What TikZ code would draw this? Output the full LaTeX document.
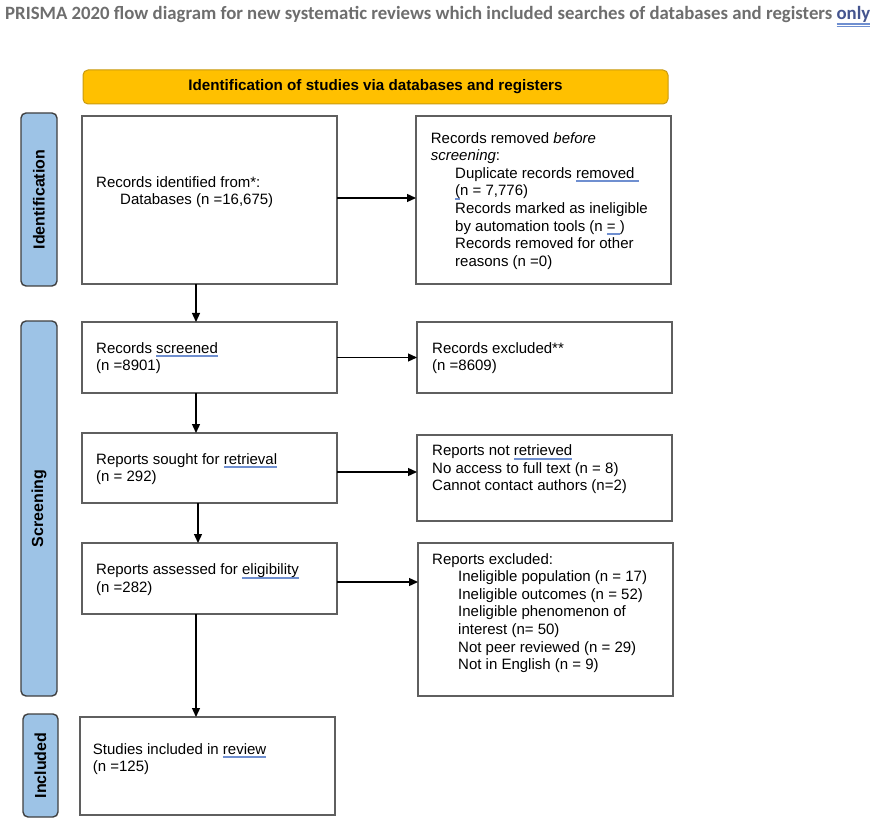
\documentclass[tikz,border=0pt]{standalone}
\usepackage{fontspec}
\setmainfont{Liberation Sans}
\newfontfamily\titlefont{Carlito}
\usepackage{graphicx}
\usetikzlibrary{arrows.meta}
\definecolor{boxline}{HTML}{5F5F5F}
\definecolor{barfill}{HTML}{9DC3E6}
\definecolor{barline}{HTML}{404040}
\definecolor{bannerfill}{HTML}{FFC000}
\definecolor{bannerline}{HTML}{C99A10}
\definecolor{titlegray}{HTML}{6E6E6E}
\definecolor{onlyblue}{HTML}{45558F}
\definecolor{spell}{HTML}{6F8FD0}
\newcommand\spellmark[1]{\setbox0\hbox{#1}\rlap{\color{spell}\rule[-2.4pt]{\wd0}{0.6pt}}\rlap{\color{spell}\rule[-3.8pt]{\wd0}{0.6pt}}#1}
\begin{document}
\begin{tikzpicture}[x=1pt,y=-1pt,
  box/.style={draw=boxline,line width=1.4pt,fill=white,inner sep=0pt,outer sep=0pt,minimum width=255pt},
  bar/.style={draw=barline,fill=barfill,line width=1.4pt,rounded corners=5pt,inner sep=0pt,outer sep=0pt},
  barlabel/.style={rotate=90,inner sep=0pt,font=\fontsize{16}{19}\selectfont\bfseries},
  txt/.style={anchor=north west,align=left,inner sep=0pt,font=\fontsize{15}{17.6}\selectfont,execute at begin node=\rule{0pt}{12pt}},
  arr/.style={-{Triangle[length=9pt,width=8pt]},line width=1.3pt,black}]
\useasboundingbox (0,0) rectangle (886,826);
\fill[white] (0,0) rectangle (886,826);

% title
\node[anchor=base west,inner sep=0pt,text=titlegray] (title) at (5,20)
  {\resizebox{865pt}{!}{\titlefont\bfseries PRISMA 2020 flow diagram for new systematic reviews which included searches of databases and registers \textcolor{onlyblue}{\spellmark{only}}}};

% banner
\node[draw=bannerline,fill=bannerfill,line width=1pt,rounded corners=5pt,minimum width=585pt,minimum height=34pt,inner sep=0pt,font=\fontsize{15.2}{18}\selectfont\bfseries] (banner) at (375.5,87) {Identification of studies via databases and registers};

% side bars
\node[bar,minimum width=36pt,minimum height=173pt] (idbar) at (39,199.5) {};
\node[barlabel] (idlab) at (idbar.center) {Identification};
\node[bar,minimum width=36pt,minimum height=375pt] (scbar) at (39,508.5) {};
\node[barlabel] (sclab) at (scbar.center) {Screening};
\node[bar,minimum width=35pt,minimum height=103pt] (inbar) at (40.5,765.5) {};
\node[barlabel] (inlab) at (inbar.center) {Included};

% boxes
\node[box,minimum height=168pt] (b1) at (209.5,200) {};
\node[box,minimum height=168pt] (b2) at (543.5,200) {};
\node[box,minimum height=71pt] (b3) at (209.5,357.5) {};
\node[box,minimum height=71pt] (b4) at (544.5,357.5) {};
\node[box,minimum height=70pt] (b5) at (209.5,468) {};
\node[box,minimum height=86pt] (b6) at (544.5,478) {};
\node[box,minimum height=71pt] (b7) at (209.5,578.5) {};
\node[box,minimum height=153pt] (b8) at (545.5,619.5) {};
\node[box,minimum height=98pt] (b9) at (207.5,766) {};

% texts
\node[txt] (t1) at (96,176) {Records identified from*:\\\hspace*{24pt}Databases (n =16,675)};
\node[txt] (t2) at (430.7,132) {Records removed \textit{before}\\\textit{screening}:\\
  \hspace*{24.3pt}Duplicate records \spellmark{removed\ }\\
  \hspace*{24.3pt}\spellmark{(}n = 7,776)\\
  \hspace*{24.3pt}Records marked as ineligible\\
  \hspace*{24.3pt}by automation tools (n \spellmark{=\ })\\
  \hspace*{24.3pt}Records removed for other\\
  \hspace*{24.3pt}reasons (n =0)};
\node[txt] (t3) at (96,342) {Records \spellmark{screened}\\(n =8901)};
\node[txt] (t4) at (432,342) {Records excluded**\\(n =8609)};
\node[txt] (t5) at (96,453) {Reports sought for \spellmark{retrieval}\\(n = 292)};
\node[txt] (t6) at (432,444.7) {Reports not \spellmark{retrieved}\\No access to full text (n = 8)\\Cannot contact authors (n=2)};
\node[txt] (t7) at (96,563.7) {Reports assessed for \spellmark{eligibility}\\(n =282)};
\node[txt] (t8) at (432,553) {Reports excluded:\\
  \hspace*{26pt}Ineligible population (n = 17)\\
  \hspace*{26pt}Ineligible outcomes (n = 52)\\
  \hspace*{26pt}Ineligible phenomenon of\\
  \hspace*{26pt}interest (n= 50)\\
  \hspace*{26pt}Not peer reviewed (n = 29)\\
  \hspace*{26pt}Not in English (n = 9)};
\node[txt] (t9) at (92.7,743) {Studies included in \spellmark{review}\\(n =125)};

% connectors
\draw[arr] ([yshift=2pt]b1.east) -- ([yshift=2pt]b1.east -| b2.west);
\draw[arr] (b3.east) -- (b3.east -| b4.west);
\draw[arr] ([yshift=-4pt]b5.east) -- ([yshift=-4pt]b5.east -| b6.west);
\draw[arr] ([yshift=-3.5pt]b7.east) -- ([yshift=-3.5pt]b7.east -| b8.west);
\draw[arr] ([xshift=-13.5pt]b1.south) -- ([xshift=-13.5pt]b1.south |- b3.north);
\draw[arr] ([xshift=-13.5pt]b3.south) -- ([xshift=-13.5pt]b3.south |- b5.north);
\draw[arr] ([xshift=-11.5pt]b5.south) -- ([xshift=-11.5pt]b5.south |- b7.north);
\draw[arr] ([xshift=-13.5pt]b7.south) -- ([xshift=-13.5pt]b7.south |- b9.north);
\end{tikzpicture}
\end{document}
